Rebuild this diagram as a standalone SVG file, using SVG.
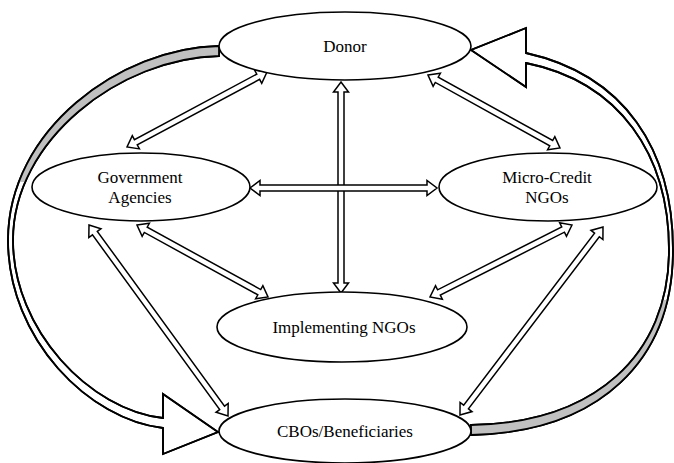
<svg xmlns="http://www.w3.org/2000/svg" width="674" height="463" viewBox="0 0 674 463">
<style>
.node ellipse{fill:#fff;stroke:#000;stroke-width:1.6}
.node text{font-family:"Liberation Serif","Times New Roman",serif;font-size:17px;fill:#000;text-anchor:middle}
.arr{fill:#fff;stroke:#000;stroke-width:1.5;stroke-linejoin:miter}
.rib{fill:#fff;stroke:#000;stroke-width:1.8;stroke-linejoin:miter}
.ribline{fill:none;stroke:#000;stroke-width:1.8;stroke-linejoin:miter}
.shade{fill:#c0c0c0;stroke:none}
</style>
<defs>
<clipPath id="clipL"><rect x="0" y="0" width="230" height="182"/></clipPath>
<clipPath id="clipR"><rect x="460" y="300" width="214" height="163"/></clipPath>
<path id="ribL" d="M219,46 C120,48 8,130 8,240 C8,340 90,420 163,428 L163,454 L218,432 L163,394 L163,418 C90,410 13,330 13,240 C13,140 120,58 219,56 Z"/>
<path id="ribR" d="M471,425 C595,423 669,355 669,250 C669,155 620,82 526,63 L526,87 L471,50 L526,28 L526,53 C625,75 673,150 673,250 C673,360 600,432 471,435 Z"/>
</defs>
<g id="connectors">
<use href="#ribL" class="rib"/>
<use href="#ribL" class="shade" clip-path="url(#clipL)"/>
<use href="#ribL" class="ribline"/>
<use href="#ribR" class="rib"/>
<use href="#ribR" class="shade" clip-path="url(#clipR)"/>
<use href="#ribR" class="ribline"/>
<path class="arr" transform="translate(267,72) rotate(151.82)" d="M0,0 L10,-7.5 L10,-3 L148.8,-3 L148.8,-7.5 L158.8,0 L148.8,7.5 L148.8,3 L10,3 L10,7.5 Z"/>
<path class="arr" transform="translate(428,75) rotate(28.95)" d="M0,0 L10,-7.5 L10,-3 L140.8,-3 L140.8,-7.5 L150.8,0 L140.8,7.5 L140.8,3 L10,3 L10,7.5 Z"/>
<path class="arr" transform="translate(341,82) rotate(90)" d="M0,0 L10,-7.5 L10,-3 L201,-3 L201,-7.5 L211,0 L201,7.5 L201,3 L10,3 L10,7.5 Z"/>
<path class="arr" transform="translate(250,188)" d="M0,0 L10,-7.5 L10,-3 L177,-3 L177,-7.5 L187,0 L177,7.5 L177,3 L10,3 L10,7.5 Z"/>
<path class="arr" transform="translate(137,225) rotate(28.79)" d="M0,0 L10,-7.5 L10,-3 L139.5,-3 L139.5,-7.5 L149.5,0 L139.5,7.5 L139.5,3 L10,3 L10,7.5 Z"/>
<path class="arr" transform="translate(572,225) rotate(153.11)" d="M0,0 L10,-7.5 L10,-3 L149.2,-3 L149.2,-7.5 L159.2,0 L149.2,7.5 L149.2,3 L10,3 L10,7.5 Z"/>
<path class="arr" transform="translate(89,225) rotate(53.95)" d="M0,0 L10,-7.5 L10,-3 L226.2,-3 L226.2,-7.5 L236.2,0 L226.2,7.5 L226.2,3 L10,3 L10,7.5 Z"/>
<path class="arr" transform="translate(603,227) rotate(127.26)" d="M0,0 L10,-7.5 L10,-3 L226.2,-3 L226.2,-7.5 L236.2,0 L226.2,7.5 L226.2,3 L10,3 L10,7.5 Z"/>
</g>
<g id="donor" class="node">
<ellipse cx="345" cy="46" rx="126" ry="34"/>
<text x="345" y="52">Donor</text>
</g>
<g id="government" class="node">
<ellipse cx="141" cy="187" rx="109" ry="34"/>
<text x="140" y="183">Government</text>
<text x="140" y="203">Agencies</text>
</g>
<g id="microcredit" class="node">
<ellipse cx="548" cy="187" rx="109" ry="34"/>
<text x="547" y="183">Micro-Credit</text>
<text x="547" y="203">NGOs</text>
</g>
<g id="implementing" class="node">
<ellipse cx="342" cy="327" rx="125" ry="35"/>
<text x="344" y="333">Implementing NGOs</text>
</g>
<g id="cbos" class="node">
<ellipse cx="345" cy="431" rx="126" ry="32"/>
<text x="345" y="437">CBOs/Beneficiaries</text>
</g>
</svg>
